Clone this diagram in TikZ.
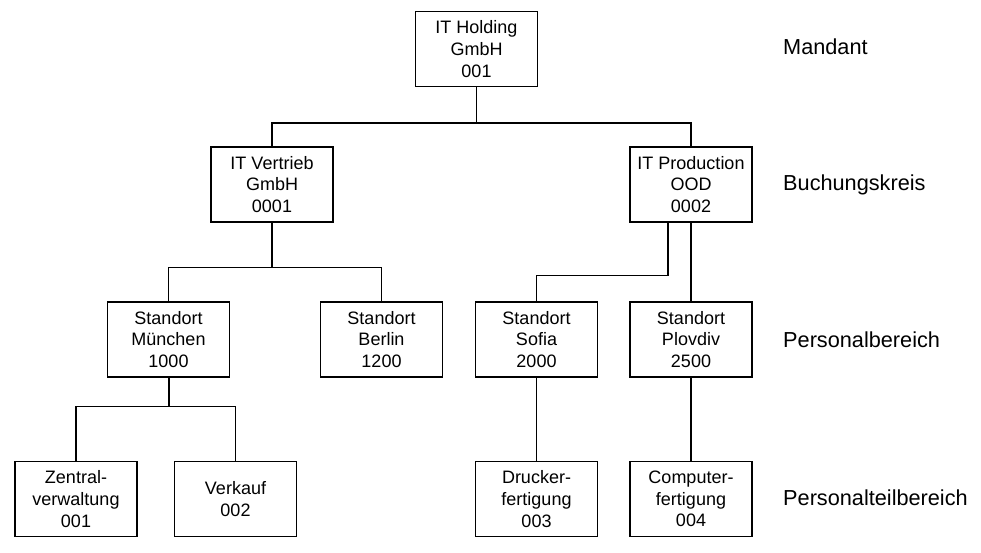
\documentclass[tikz,border=0pt]{standalone}
\usepackage{fontspec}
\setmainfont{Liberation Sans}
\begin{document}
\begin{tikzpicture}[x=1pt,y=-1pt,
  orgbox/.style={draw,line width=1.4pt,minimum width=122pt,minimum height=75pt,inner sep=0pt,align=center,
    font=\fontsize{18}{21.7}\selectfont},
  lvl/.style={anchor=west,inner sep=0pt,font=\fontsize{21.7}{24}\selectfont},
  conn/.style={line width=1.4pt},
  thickconn/.style={line width=2pt}]
\useasboundingbox (0,0) rectangle (981,553);
% boxes
\node[orgbox] (hold) at (476.5,49) {IT Holding\\GmbH\\001};
\node[orgbox] (vert) at (272,184.5) {IT Vertrieb\\GmbH\\0001};
\node[orgbox] (prod) at (691,184.5) {IT Production\\OOD\\0002};
\node[orgbox] (muc) at (168.5,339.5) {Standort\\München\\1000};
\node[orgbox] (ber) at (381.5,339.5) {Standort\\Berlin\\1200};
\node[orgbox] (sof) at (536.5,339.5) {Standort\\Sofia\\2000};
\node[orgbox] (plo) at (691,339.5) {Standort\\Plovdiv\\2500};
\node[orgbox] (zen) at (76,499) {Zentral-\\verwaltung\\001};
\node[orgbox] (ver) at (235.5,499) {Verkauf\\002};
\node[orgbox] (dru) at (536.5,499) {Drucker-\\fertigung\\003};
\node[orgbox] (com) at (691,499) {Computer-\\fertigung\\004};
% level labels
\node[lvl] (l1) at (783,47) {Mandant};
\node[lvl] (l2) at (783,185) {Buchungskreis};
\node[lvl] (l3) at (783,340) {Personalbereich};
\node[lvl] (l4) at (783,498) {Personalteilbereich};
% connectors
\draw[conn] (hold.south) -- ++(0,36) -| (vert.north);
\draw[conn] (hold.south) -- ++(0,36) -| (prod.north);
\draw[thickconn] (vert.south) -- ++(0,45);
\draw[conn] (vert.south) ++(0,45) -| (muc.north);
\draw[conn] (vert.south) ++(0,45) -| (ber.north);
\draw[thickconn] (muc.south) -- ++(0,29);
\draw[conn] (muc.south) ++(0,29) -| (zen.north);
\draw[conn] (muc.south) ++(0,29) -| (ver.north);
\draw[conn] ([xshift=-23pt]prod.south) -- ++(0,53) -| (sof.north);
\draw[conn] (prod.south) -- (plo.north);
\draw[conn] (sof.south) -- (dru.north);
\draw[conn] (plo.south) -- (com.north);
\end{tikzpicture}
\end{document}
